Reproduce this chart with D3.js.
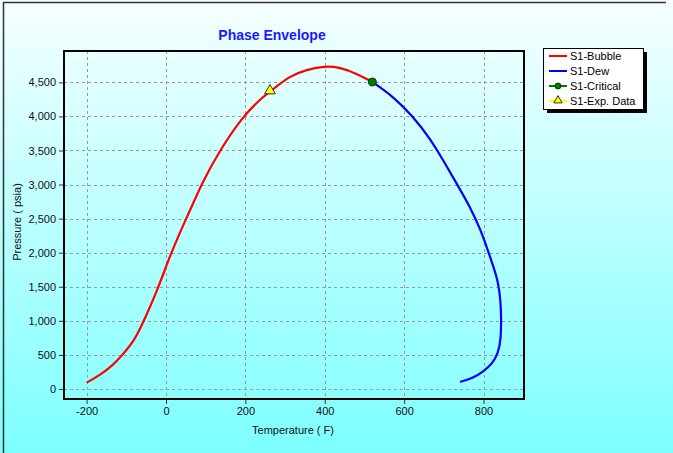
<!DOCTYPE html>
<html>
<head>
<meta charset="utf-8">
<script src="https://cdn.jsdelivr.net/npm/d3@7"></script>
<style>
  body { margin: 0; padding: 0; }
  svg { display: block; font-family: "Liberation Sans", Arial, sans-serif; }
</style>
</head>
<body>
<svg id="chart" width="673" height="453"></svg>
<script>
// values
var bubbleT = [-200, -166, -133, -108, -78, -49, -19, 6, 35, 62, 90, 136, 193, 237, 262, 312, 354, 400, 438, 480, 520];
var bubbleP = [93, 205, 352, 513, 719, 1086, 1492, 1893, 2299, 2637, 3017, 3507, 3995, 4250, 4362, 4597, 4685, 4740, 4720, 4630, 4505];

var dewT = [520, 573, 623, 665, 698, 732, 766, 795, 816, 837, 845, 844, 836, 824, 798, 773, 741];
var dewP = [4505, 4289, 3996, 3678, 3360, 3018, 2675, 2308, 1942, 1600, 1208, 690, 528, 381, 249, 161, 103];

var criticalT = [520], criticalP = [4505];
var expT = [262], expP = [4362];

var xTicks = [-200, 0, 200, 400, 600, 800];
var yTicks = [0, 500, 1000, 1500, 2000, 2500, 3000, 3500, 4000, 4500];

var legendNames = ["S1-Bubble", "S1-Dew", "S1-Critical", "S1-Exp. Data"];

var svg = d3.select("#chart"),
    W = 673, H = 453;

var m = {left: 64, top: 51, right: 524, bottom: 399};

var x = d3.scaleLinear().domain([-257, 902]).range([m.left, m.right]);
var y = d3.scaleLinear().domain([-147, 4960]).range([m.bottom, m.top]);

// background gradient
var defs = svg.append("defs");
var grad = defs.append("linearGradient").attr("id", "bg").attr("x1", 0).attr("y1", 0).attr("x2", 0).attr("y2", 1);
grad.append("stop").attr("offset", "0%").attr("stop-color", "#f6ffff");
grad.append("stop").attr("offset", "100%").attr("stop-color", "#7dffff");
svg.append("rect").attr("width", W).attr("height", H).attr("fill", "url(#bg)");

// outer frame lines (left + top)
svg.append("line").attr("x1", 3.5).attr("x2", 3.5).attr("y1", 2).attr("y2", H).attr("stroke", "#333").attr("stroke-width", 1.5);
svg.append("line").attr("x1", 3).attr("x2", 666).attr("y1", 2.5).attr("y2", 2.5).attr("stroke", "#333").attr("stroke-width", 1.5);

// title
svg.append("text").attr("x", 272).attr("y", 40).attr("text-anchor", "middle")
  .attr("font-size", 14).attr("font-weight", "bold").attr("fill", "#1a1aff")
  .text("Phase Envelope");

// grid
var grid = svg.append("g").attr("stroke", "#999").attr("stroke-dasharray", "3,3").attr("stroke-width", 1);
xTicks.forEach(function(t) {
  grid.append("line").attr("x1", Math.round(x(t)) + 0.5).attr("x2", Math.round(x(t)) + 0.5)
    .attr("y1", m.top).attr("y2", m.bottom);
});
yTicks.forEach(function(t) {
  grid.append("line").attr("y1", Math.round(y(t)) + 0.5).attr("y2", Math.round(y(t)) + 0.5)
    .attr("x1", m.left).attr("x2", m.right);
});

// axes
var fmt = function(v) { return d3.format(",d")(v).replace("\u2212", "-"); };
var xAxis = svg.append("g").attr("transform", "translate(0," + m.bottom + ")")
  .call(d3.axisBottom(x).tickValues(xTicks).tickSize(5).tickPadding(3).tickFormat(fmt));
var yAxis = svg.append("g").attr("transform", "translate(" + m.left + ",0)")
  .call(d3.axisLeft(y).tickValues(yTicks).tickSize(5).tickPadding(3).tickFormat(fmt));
[xAxis, yAxis].forEach(function(a) {
  a.select(".domain").remove();
  a.selectAll("text").attr("font-size", 11).attr("fill", "#111").attr("font-family", "Liberation Sans, Arial, sans-serif");
  a.selectAll(".tick line").attr("stroke", "#333");
});

// plot frame
svg.append("rect").attr("x", m.left).attr("y", m.top)
  .attr("width", m.right - m.left).attr("height", m.bottom - m.top)
  .attr("fill", "none").attr("stroke", "#000").attr("stroke-width", 2);

// axis titles
svg.append("text").attr("x", 293).attr("y", 434).attr("text-anchor", "middle")
  .attr("font-size", 11).attr("fill", "#111").text("Temperature ( F)");
svg.append("text").attr("transform", "translate(21,222) rotate(-90)").attr("text-anchor", "middle")
  .attr("font-size", 11).attr("fill", "#111").text("Pressure ( psia)");

// curves
var line = d3.line().x(function(d) { return x(d[0]); }).y(function(d) { return y(d[1]); }).curve(d3.curveBasis);

svg.append("path").datum(d3.zip(bubbleT, bubbleP)).attr("d", line)
  .attr("fill", "none").attr("stroke", "#ff0000").attr("stroke-width", 2.2);
svg.append("path").datum(d3.zip(dewT, dewP)).attr("d", line)
  .attr("fill", "none").attr("stroke", "#0000ff").attr("stroke-width", 2.2);

// critical point
svg.selectAll(".crit").data(d3.zip(criticalT, criticalP)).enter().append("circle")
  .attr("cx", function(d) { return x(d[0]); }).attr("cy", function(d) { return y(d[1]); })
  .attr("r", 4).attr("fill", "#007a00").attr("stroke", "#004000").attr("stroke-width", 1);

// exp data triangle
var tri = d3.symbol().type(d3.symbolTriangle).size(50);
svg.selectAll(".exp").data(d3.zip(expT, expP)).enter().append("path")
  .attr("transform", function(d) { return "translate(" + x(d[0]) + "," + (y(d[1]) - 1) + ")"; })
  .attr("d", tri).attr("fill", "#ffff00").attr("stroke", "#333").attr("stroke-width", 1);

// legend
var lg = svg.append("g").attr("transform", "translate(543,48)");
lg.append("rect").attr("x", 4).attr("y", 4).attr("width", 100).attr("height", 61).attr("fill", "#000");
lg.append("rect").attr("x", 0.5).attr("y", 0.5).attr("width", 100).attr("height", 61)
  .attr("fill", "#fff").attr("stroke", "#000");
var lgColors = ["#ff0000", "#0000ff", "#007a00", "#ffff00"];
legendNames.forEach(function(name, i) {
  var yy = 8 + i * 15;
  lg.append("line").attr("x1", 6).attr("x2", 24).attr("y1", yy).attr("y2", yy)
    .attr("stroke", lgColors[i]).attr("stroke-width", 2);
  if (i === 2) {
    lg.append("circle").attr("cx", 15).attr("cy", yy).attr("r", 3).attr("fill", "#007a00").attr("stroke", "#004000");
  }
  if (i === 3) {
    lg.append("path").attr("transform", "translate(15," + (yy - 0.5) + ")")
      .attr("d", d3.symbol().type(d3.symbolTriangle).size(30)).attr("fill", "#ffff00").attr("stroke", "#333");
  }
  lg.append("text").attr("x", 27).attr("y", yy + 4).attr("font-size", 11).attr("fill", "#000").text(name);
});
</script>
</body>
</html>
